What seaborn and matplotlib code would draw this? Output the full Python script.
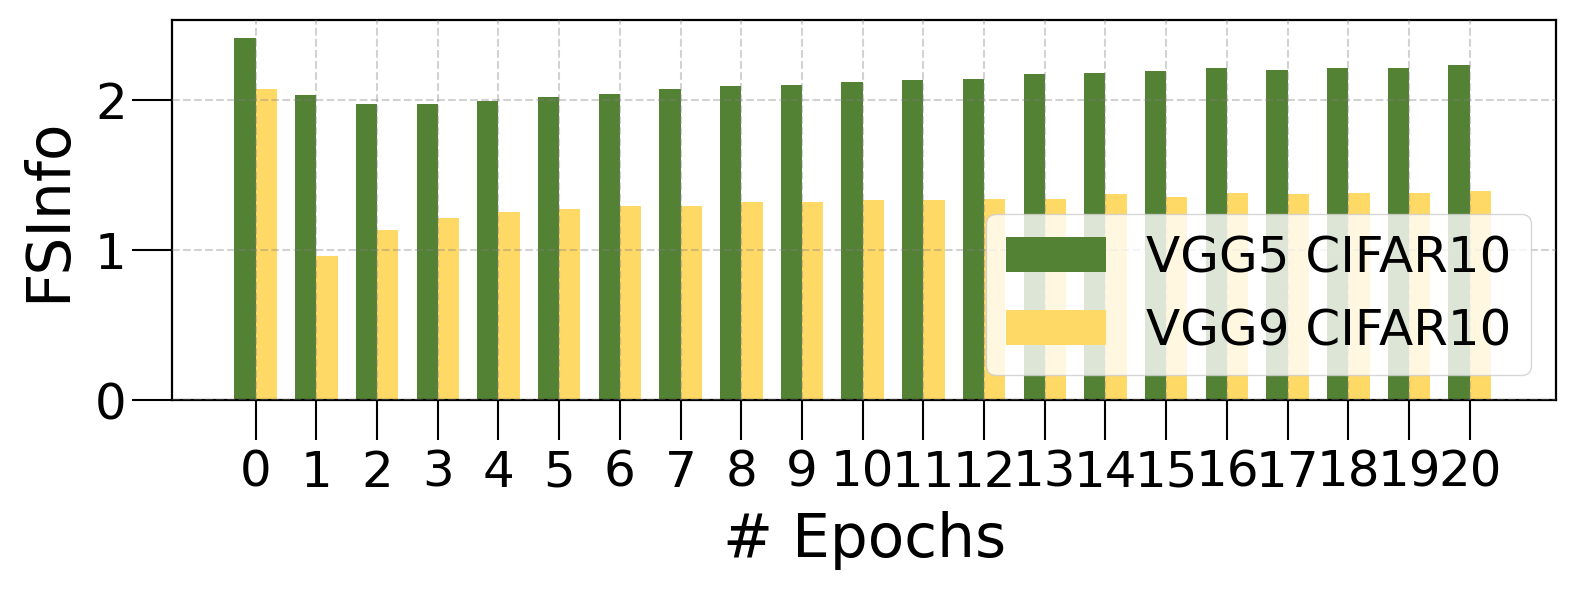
import pandas as pd
import matplotlib
matplotlib.use("Agg")
import matplotlib.pyplot as plt
import seaborn as sns

# values
epochs = list(range(21))
vgg5_cifar10 = [2.41, 2.03, 1.97, 1.97, 1.99, 2.02, 2.04, 2.07, 2.09, 2.10, 2.12,
                2.13, 2.14, 2.17, 2.18, 2.19, 2.21, 2.20, 2.21, 2.21, 2.23]
vgg9_cifar10 = [2.07, 0.96, 1.13, 1.21, 1.25, 1.27, 1.29, 1.29, 1.32, 1.32, 1.33,
                1.33, 1.34, 1.34, 1.37, 1.35, 1.38, 1.37, 1.38, 1.38, 1.39]
series_names = ["VGG5 CIFAR10", "VGG9 CIFAR10"]
colors = ["#548235", "#FFD966"]

df = pd.DataFrame({
    "Epoch": epochs * 2,
    "FSInfo": vgg5_cifar10 + vgg9_cifar10,
    "Model": [series_names[0]] * len(epochs) + [series_names[1]] * len(epochs),
})

fig = plt.figure(figsize=(15.77, 5.91), dpi=100)
ax = fig.add_axes([0.109, 0.323, 0.878, 0.643])

sns.barplot(data=df, x="Epoch", y="FSInfo", hue="Model", palette=colors,
            width=0.7, saturation=1, errorbar=None, ax=ax)

ax.set_xlim(-1.38, 21.43)
ax.set_ylim(0, 2.53)
ax.set_yticks([0, 1, 2])
ax.grid(True, linestyle="--", color="gray", alpha=0.35, linewidth=1.5)
ax.set_axisbelow(False)

ax.tick_params(axis="both", length=29, width=1.5, labelsize=36)
ax.tick_params(axis="x", pad=6)
for sp in ax.spines.values():
    sp.set_linewidth(1.6)
    sp.set_color("black")

ax.set_xlabel("# Epochs", fontsize=43, labelpad=10)
ax.set_ylabel("FSInfo", fontsize=43, labelpad=12)
ax.legend(loc="lower right", fontsize=36, handlelength=2.0)

fig.savefig("out.png", dpi=100)
